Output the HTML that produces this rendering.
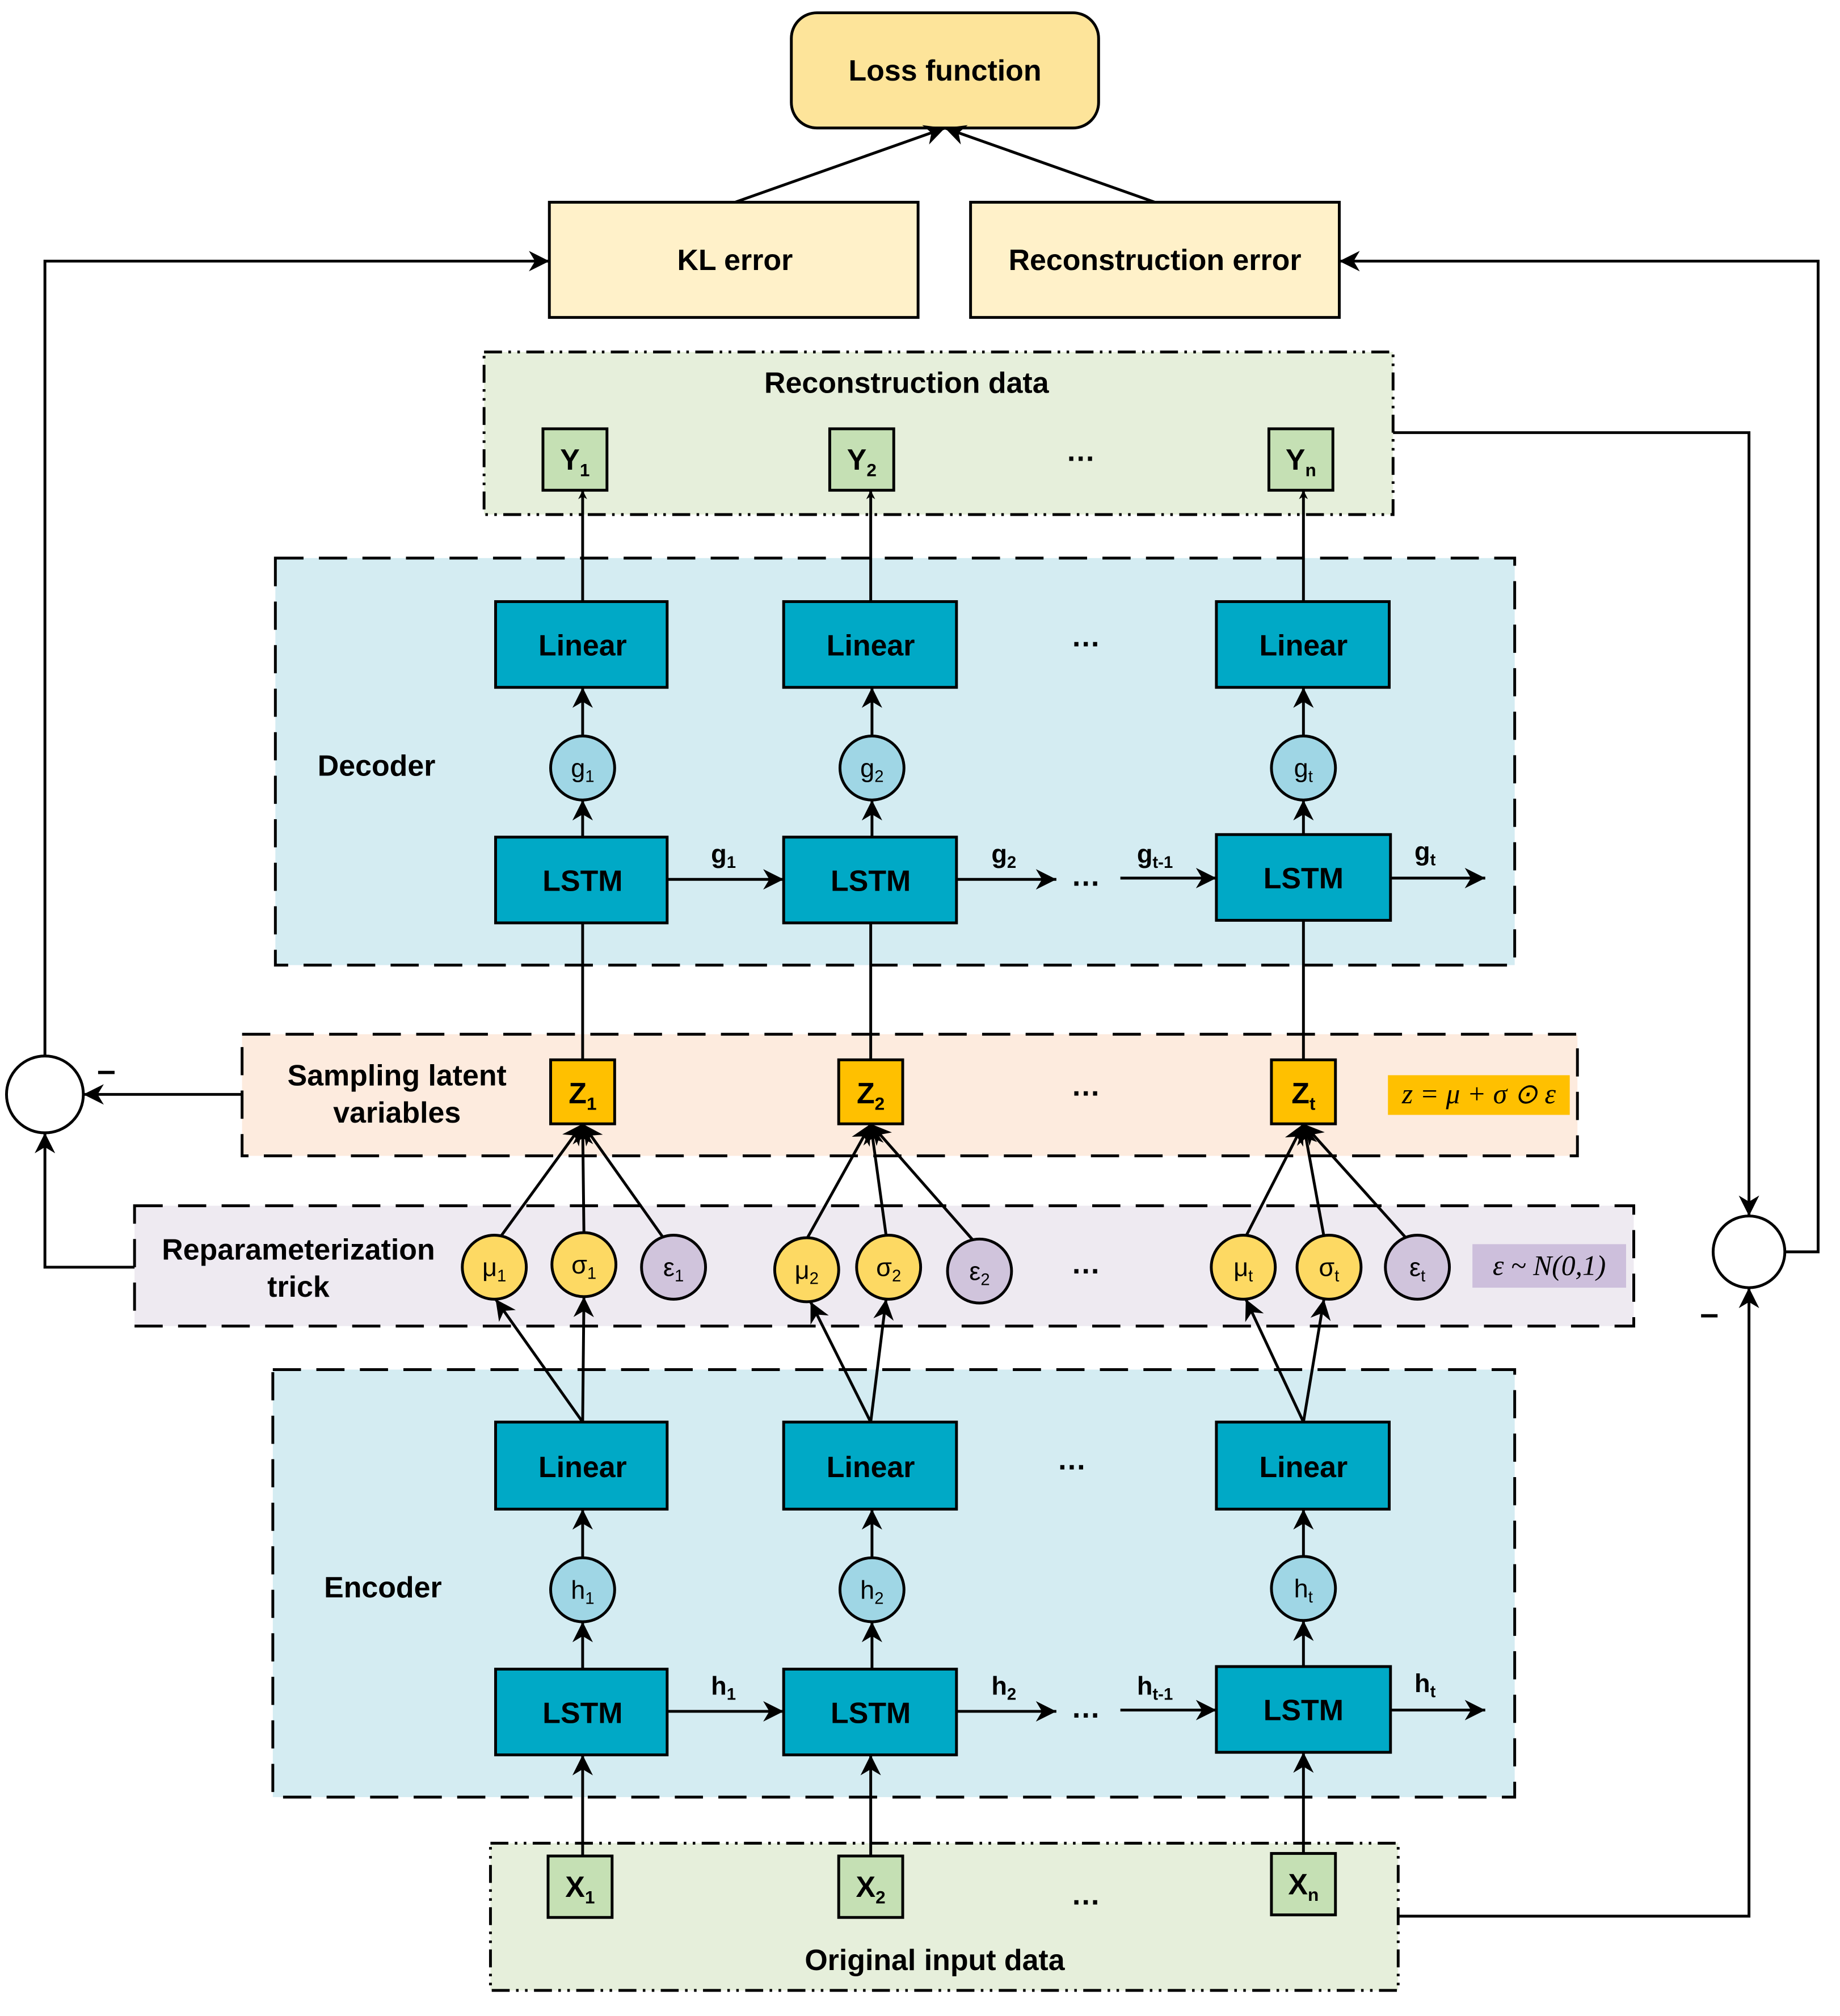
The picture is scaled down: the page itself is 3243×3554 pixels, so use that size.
<!DOCTYPE html>
<html><head><meta charset="utf-8"><style>html,body{margin:0;padding:0;background:#fff}svg{display:block}</style></head>
<body>
<svg width="3243" height="3554" viewBox="0 0 1437 1575" xmlns="http://www.w3.org/2000/svg" font-family="Liberation Sans, sans-serif">
<defs>
<marker id="a" viewBox="0 0 10 10" refX="10" refY="5" markerWidth="7" markerHeight="7" markerUnits="userSpaceOnUse" orient="auto"><path d="M0,0 L10,5 L0,10 L3,5z" fill="#000"/></marker>
<marker id="b" viewBox="0 0 10 10" refX="10" refY="5" markerWidth="16" markerHeight="16" markerUnits="userSpaceOnUse" orient="auto"><path d="M0,0 L10,5 L0,10 L3,5z" fill="#000"/></marker>
</defs>
<g stroke="#000" stroke-width="2.2">
<!-- group boxes -->
<rect x="378" y="275" width="710" height="127" fill="#e6efdb" stroke-dasharray="14,5,2,5,2,5"/>
<rect x="215" y="436" width="968" height="318" fill="#d4ecf2" stroke-dasharray="22,12"/>
<rect x="189" y="808" width="1043" height="95" fill="#fdebde" stroke-dasharray="22,12"/>
<rect x="105" y="942" width="1171" height="94" fill="#eeeaf1" stroke-dasharray="22,12"/>
<rect x="213" y="1070" width="970" height="334" fill="#d4ecf2" stroke-dasharray="22,12"/>
<rect x="383" y="1440" width="709" height="115" fill="#e6efdb" stroke-dasharray="14,5,2,5,2,5"/>
<!-- top -->
<rect x="618" y="10" width="240" height="90" rx="20" fill="#fde49a"/>
<rect x="429" y="158" width="288" height="90" fill="#fff1c9"/>
<rect x="758" y="158" width="288" height="90" fill="#fff1c9"/>
<g fill="none">
<line x1="574" y1="158" x2="738" y2="100" marker-end="url(#b)"/>
<line x1="902" y1="158" x2="738" y2="100" marker-end="url(#b)"/>
<!-- feedback loops -->
<line x1="189" y1="855" x2="65" y2="855" marker-end="url(#b)"/>
<polyline points="35,825 35,204 429,204" marker-end="url(#b)"/>
<polyline points="105,990 35,990 35,885" marker-end="url(#b)"/>
<polyline points="1088,338 1366,338 1366,950" marker-end="url(#b)"/>
<polyline points="1394,978 1420,978 1420,204 1046,204" marker-end="url(#b)"/>
<polyline points="1092,1497 1366,1497 1366,1006" marker-end="url(#b)"/>
</g>
<circle cx="35" cy="855" r="30" fill="#fff"/>
<circle cx="1366" cy="978" r="28" fill="#fff"/>
</g>
<g font-weight="bold" font-size="23" text-anchor="middle" fill="#000">
<text x="738" y="63">Loss function</text>
<text x="574" y="211">KL error</text>
<text x="902" y="211">Reconstruction error</text>
<text x="708" y="307">Reconstruction data</text>
<text x="294" y="606">Decoder</text>
<text x="299" y="1248">Encoder</text>
<text x="310" y="848">Sampling latent</text>
<text x="310" y="877">variables</text>
<text x="233" y="984">Reparameterization</text>
<text x="233" y="1013">trick</text>
<text x="730" y="1539">Original input data</text>
<text x="83" y="845" font-size="26">–</text>
<text x="1335" y="1035" font-size="26">–</text>
<text x="844" y="360">…</text><text x="848" y="505">…</text><text x="848" y="692">…</text>
<text x="848" y="856">…</text><text x="848" y="995">…</text><text x="837" y="1148">…</text>
<text x="848" y="1342">…</text><text x="848" y="1488">…</text>
</g>
<!-- columns -->
<g id="cols">
<g stroke="#000" stroke-width="2.2" fill="none">
<!-- decoder/encoder lines -->
<line x1="455" y1="383" x2="455" y2="335"/>
</g>
</g>
<g stroke="#000" stroke-width="2.2">
<!-- Y boxes -->
<rect x="424" y="335" width="50" height="48" fill="#c5e0b4"/>
<rect x="648" y="335" width="50" height="48" fill="#c5e0b4"/>
<rect x="991" y="335" width="50" height="48" fill="#c5e0b4"/>
<!-- X boxes -->
<rect x="428" y="1450" width="50" height="48" fill="#c5e0b4"/>
<rect x="655" y="1450" width="50" height="48" fill="#c5e0b4"/>
<rect x="993" y="1448" width="50" height="48" fill="#c5e0b4"/>
<!-- Linear & LSTM -->
<g fill="#00a9c6">
<rect x="387" y="470" width="134" height="67"/><rect x="612" y="470" width="135" height="67"/><rect x="950" y="470" width="135" height="67"/>
<rect x="387" y="654" width="134" height="67"/><rect x="612" y="654" width="135" height="67"/><rect x="950" y="652" width="136" height="67"/>
<rect x="387" y="1111" width="134" height="68"/><rect x="612" y="1111" width="135" height="68"/><rect x="950" y="1111" width="135" height="68"/>
<rect x="387" y="1304" width="134" height="67"/><rect x="612" y="1304" width="135" height="67"/><rect x="950" y="1302" width="136" height="67"/>
</g>
<!-- Z -->
<g fill="#ffc000">
<rect x="430" y="828" width="50" height="50"/><rect x="655" y="828" width="50" height="50"/><rect x="993" y="828" width="50" height="50"/>
</g>
<!-- arrows & lines -->
<g fill="none">
<line x1="455" y1="470" x2="455" y2="383" marker-end="url(#a)"/>
<line x1="680" y1="470" x2="680" y2="383" marker-end="url(#a)"/>
<line x1="1018" y1="470" x2="1018" y2="383" marker-end="url(#a)"/>
<line x1="455" y1="575" x2="455" y2="537" marker-end="url(#b)"/>
<line x1="681" y1="575" x2="681" y2="537" marker-end="url(#b)"/>
<line x1="1018" y1="575" x2="1018" y2="537" marker-end="url(#b)"/>
<line x1="455" y1="654" x2="455" y2="625" marker-end="url(#b)"/>
<line x1="681" y1="654" x2="681" y2="625" marker-end="url(#b)"/>
<line x1="1018" y1="652" x2="1018" y2="625" marker-end="url(#b)"/>
<line x1="521" y1="687" x2="612" y2="687" marker-end="url(#b)"/>
<line x1="747" y1="687" x2="825" y2="687" marker-end="url(#b)"/>
<line x1="875" y1="686" x2="950" y2="686" marker-end="url(#b)"/>
<line x1="1086" y1="686" x2="1160" y2="686" marker-end="url(#b)"/>
<line x1="455" y1="721" x2="455" y2="828"/>
<line x1="680" y1="721" x2="680" y2="828"/>
<line x1="1018" y1="719" x2="1018" y2="828"/>
<!-- to Z -->
<line x1="391" y1="966" x2="455" y2="878" marker-end="url(#b)"/>
<line x1="456" y1="963" x2="455" y2="878" marker-end="url(#b)"/>
<line x1="518" y1="967" x2="455" y2="878" marker-end="url(#b)"/>
<line x1="630" y1="968" x2="680" y2="878" marker-end="url(#b)"/>
<line x1="692" y1="965" x2="680" y2="878" marker-end="url(#b)"/>
<line x1="760" y1="969" x2="680" y2="878" marker-end="url(#b)"/>
<line x1="973" y1="966" x2="1018" y2="878" marker-end="url(#b)"/>
<line x1="1034" y1="966" x2="1018" y2="878" marker-end="url(#b)"/>
<line x1="1098" y1="967" x2="1018" y2="878" marker-end="url(#b)"/>
<!-- linear to mu sigma -->
<line x1="455" y1="1111" x2="387" y2="1015" marker-end="url(#b)"/>
<line x1="455" y1="1111" x2="456" y2="1013" marker-end="url(#b)"/>
<line x1="680" y1="1111" x2="633" y2="1017" marker-end="url(#b)"/>
<line x1="680" y1="1111" x2="692" y2="1015" marker-end="url(#b)"/>
<line x1="1018" y1="1111" x2="973" y2="1015" marker-end="url(#b)"/>
<line x1="1018" y1="1111" x2="1034" y2="1015" marker-end="url(#b)"/>
<!-- encoder -->
<line x1="455" y1="1217" x2="455" y2="1179" marker-end="url(#b)"/>
<line x1="681" y1="1217" x2="681" y2="1179" marker-end="url(#b)"/>
<line x1="1018" y1="1216" x2="1018" y2="1179" marker-end="url(#b)"/>
<line x1="455" y1="1304" x2="455" y2="1267" marker-end="url(#b)"/>
<line x1="681" y1="1304" x2="681" y2="1267" marker-end="url(#b)"/>
<line x1="1018" y1="1302" x2="1018" y2="1266" marker-end="url(#b)"/>
<line x1="521" y1="1337" x2="612" y2="1337" marker-end="url(#b)"/>
<line x1="747" y1="1337" x2="825" y2="1337" marker-end="url(#b)"/>
<line x1="875" y1="1336" x2="950" y2="1336" marker-end="url(#b)"/>
<line x1="1086" y1="1336" x2="1160" y2="1336" marker-end="url(#b)"/>
<line x1="455" y1="1450" x2="455" y2="1371" marker-end="url(#b)"/>
<line x1="680" y1="1450" x2="680" y2="1371" marker-end="url(#b)"/>
<line x1="1018" y1="1448" x2="1018" y2="1369" marker-end="url(#b)"/>
</g>
<!-- circles -->
<g fill="#9fd6e5">
<circle cx="455" cy="600" r="25"/><circle cx="681" cy="600" r="25"/><circle cx="1018" cy="600" r="25"/>
<circle cx="455" cy="1242" r="25"/><circle cx="681" cy="1242" r="25"/><circle cx="1018" cy="1241" r="25"/>
</g>
<g fill="#fdd963">
<circle cx="386" cy="990" r="25"/><circle cx="456" cy="988" r="25"/>
<circle cx="630" cy="992" r="25"/><circle cx="694" cy="990" r="25"/>
<circle cx="971" cy="990" r="25"/><circle cx="1038" cy="990" r="25"/>
</g>
<g fill="#d0c4dc">
<circle cx="526" cy="990" r="25"/><circle cx="765" cy="993" r="25"/><circle cx="1107" cy="990" r="25"/>
</g>
</g>
<rect x="1084" y="840" width="142" height="31" fill="#ffc000"/>
<rect x="1150" y="972" width="120" height="34" fill="#cdbfdc"/>
<g font-family="Liberation Serif, serif" font-style="italic" font-size="22" text-anchor="middle">
<text x="1155" y="862">z = μ + σ ⊙ ε</text>
<text x="1210" y="996">ε ~ N(0,1)</text>
</g>
<g font-weight="bold" font-size="23" text-anchor="middle" fill="#000">
<g fill="#000">
<text x="455" y="512">Linear</text><text x="680" y="512">Linear</text><text x="1018" y="512">Linear</text>
<text x="455" y="696">LSTM</text><text x="680" y="696">LSTM</text><text x="1018" y="694">LSTM</text>
<text x="455" y="1154">Linear</text><text x="680" y="1154">Linear</text><text x="1018" y="1154">Linear</text>
<text x="455" y="1346">LSTM</text><text x="680" y="1346">LSTM</text><text x="1018" y="1344">LSTM</text>
</g>
<text x="449" y="367">Y<tspan font-size="14" dy="5">1</tspan></text>
<text x="673" y="367">Y<tspan font-size="14" dy="5">2</tspan></text>
<text x="1016" y="367">Y<tspan font-size="14" dy="5">n</tspan></text>
<text x="453" y="1482">X<tspan font-size="14" dy="5">1</tspan></text>
<text x="680" y="1482">X<tspan font-size="14" dy="5">2</tspan></text>
<text x="1018" y="1480">X<tspan font-size="14" dy="5">n</tspan></text>
<text x="455" y="862">Z<tspan font-size="14" dy="5">1</tspan></text>
<text x="680" y="862">Z<tspan font-size="14" dy="5">2</tspan></text>
<text x="1018" y="862">Z<tspan font-size="14" dy="5">t</tspan></text>
<text x="565" y="674" font-size="20">g<tspan font-size="13" dy="4">1</tspan></text>
<text x="784" y="674" font-size="20">g<tspan font-size="13" dy="4">2</tspan></text>
<text x="902" y="674" font-size="20">g<tspan font-size="13" dy="4">t-1</tspan></text>
<text x="1113" y="672" font-size="20">g<tspan font-size="13" dy="4">t</tspan></text>
<text x="565" y="1324" font-size="20">h<tspan font-size="13" dy="4">1</tspan></text>
<text x="784" y="1324" font-size="20">h<tspan font-size="13" dy="4">2</tspan></text>
<text x="902" y="1324" font-size="20">h<tspan font-size="13" dy="4">t-1</tspan></text>
<text x="1113" y="1322" font-size="20">h<tspan font-size="13" dy="4">t</tspan></text>
</g>
<g font-size="20" text-anchor="middle" fill="#000">
<text x="455" y="607">g<tspan font-size="13" dy="4">1</tspan></text>
<text x="681" y="607">g<tspan font-size="13" dy="4">2</tspan></text>
<text x="1018" y="607">g<tspan font-size="13" dy="4">t</tspan></text>
<text x="455" y="1249">h<tspan font-size="13" dy="4">1</tspan></text>
<text x="681" y="1249">h<tspan font-size="13" dy="4">2</tspan></text>
<text x="1018" y="1248">h<tspan font-size="13" dy="4">t</tspan></text>
<text x="386" y="997">μ<tspan font-size="13" dy="4">1</tspan></text>
<text x="456" y="995">σ<tspan font-size="13" dy="4">1</tspan></text>
<text x="526" y="997">ε<tspan font-size="13" dy="4">1</tspan></text>
<text x="630" y="999">μ<tspan font-size="13" dy="4">2</tspan></text>
<text x="694" y="997">σ<tspan font-size="13" dy="4">2</tspan></text>
<text x="765" y="1000">ε<tspan font-size="13" dy="4">2</tspan></text>
<text x="971" y="997">μ<tspan font-size="13" dy="4">t</tspan></text>
<text x="1038" y="997">σ<tspan font-size="13" dy="4">t</tspan></text>
<text x="1107" y="997">ε<tspan font-size="13" dy="4">t</tspan></text>
</g>
</svg>
</body></html>
